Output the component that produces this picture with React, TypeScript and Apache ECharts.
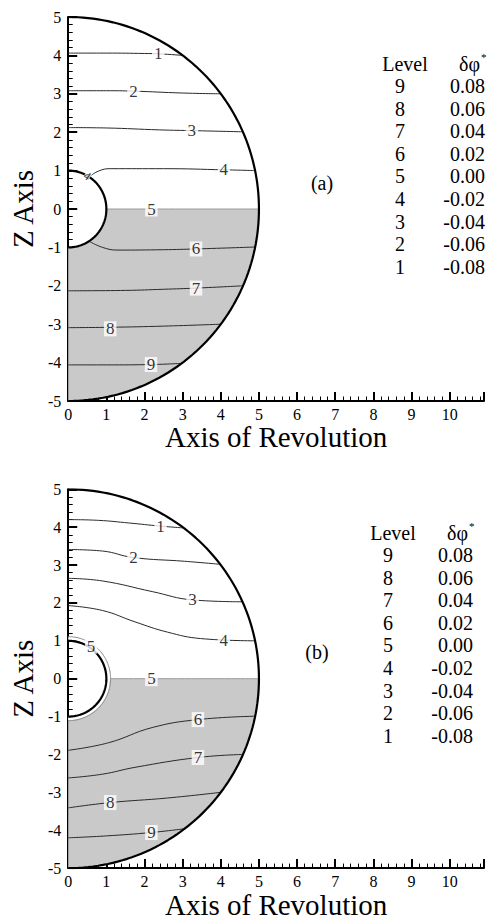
import React, { useEffect, useRef } from 'react';
import * as echarts from 'echarts';

const FONT = "'Liberation Serif', 'Times New Roman', Times, 'DejaVu Serif', serif";

// axes
const X_MIN = 0;
const X_MAX = 10.9;
const Y_MIN = -5;
const Y_MAX = 5;
const R_INNER = 1;
const R_OUTER = 5;

// legend table
const levelNames = ['9', '8', '7', '6', '5', '4', '3', '2', '1'];
const levelValues = ['0.08', '0.06', '0.04', '0.02', '0.00', '-0.02', '-0.04', '-0.06', '-0.08'];
const panelTags = ['(a)', '(b)'];

// contour lines, panel (a): levels 1..9 (level 5 lies on z = 0)
const contoursA: number[][][] = [
  [[0, 4.06], [1, 4.06], [2, 4.05], [2.4, 4.04], [3.0, 4.0]],
  [[0, 3.08], [1, 3.08], [1.7, 3.07], [3.0, 3.02], [4.0, 3.0]],
  [[0, 2.12], [1, 2.11], [2.4, 2.06], [3.3, 2.04], [4.58, 2.01]],
  [[0.55, 0.84], [0.8, 0.99], [1.1, 1.05], [2.5, 1.05], [4.1, 1.02], [4.9, 1.0]],
  [[1.0, 0], [5.0, 0]],
  [[0.55, -0.84], [0.9, -1.0], [1.3, -1.07], [2.5, -1.06], [3.35, -1.04], [4.9, -0.99]],
  [[0, -2.13], [1.5, -2.12], [2.5, -2.09], [3.35, -2.06], [4.58, -2.0]],
  [[0, -3.09], [1.1, -3.08], [2.5, -3.05], [4.0, -3.0]],
  [[0, -4.06], [1, -4.06], [2.2, -4.05], [2.97, -4.02]],
];
const labelsA: [number, number, string][] = [
  [2.36, 4.05, '1'], [1.71, 3.07, '2'], [3.24, 2.04, '3'], [4.08, 1.02, '4'],
  [2.18, 0, '5'], [3.35, -1.04, '6'], [3.35, -2.06, '7'], [1.1, -3.12, '8'], [2.17, -4.05, '9'],
];

// contour lines, panel (b)
const contoursB: number[][][] = [
  [[0, 4.2], [0.8, 4.18], [1.6, 4.11], [2.4, 4.03], [3.03, 3.98]],
  [[0, 3.41], [0.9, 3.37], [1.7, 3.2], [3.05, 3.1], [3.99, 3.02]],
  [[0, 2.65], [0.9, 2.58], [2.2, 2.3], [3.26, 2.08], [4.57, 2.03]],
  [[0, 1.93], [0.9, 1.8], [1.75, 1.5], [2.6, 1.23], [3.47, 1.06], [4.9, 1.0]],
  [[1.1, 0], [5.0, 0]],
  [[0, -1.89], [1.06, -1.69], [2.2, -1.29], [3.4, -1.08], [4.9, -0.99]],
  [[0, -2.62], [0.9, -2.52], [1.75, -2.34], [3.4, -2.08], [4.57, -2.0]],
  [[0, -3.41], [1.1, -3.27], [2.6, -3.15], [4.0, -3.0]],
  [[0, -4.2], [1, -4.15], [2.18, -4.06], [3.06, -3.96]],
];
const labelsB: [number, number, string][] = [
  [2.42, 4.03, '1'], [1.71, 3.2, '2'], [3.26, 2.08, '3'], [4.08, 1.02, '4'],
  [2.18, 0, '5'], [3.4, -1.08, '6'], [3.4, -2.08, '7'], [1.1, -3.27, '8'], [2.18, -4.06, '9'],
];

function arc(r: number, a0: number, a1: number, n = 120): number[][] {
  const pts: number[][] = [];
  for (let i = 0; i <= n; i++) {
    const a = ((a0 + ((a1 - a0) * i) / n) * Math.PI) / 180;
    pts.push([r * Math.cos(a), r * Math.sin(a)]);
  }
  return pts;
}

const grayRegion: number[][] = [
  [R_INNER, 0],
  ...arc(R_OUTER, 0, -90),
  [0, -R_INNER],
  ...arc(R_INNER, -90, 0),
];

const GRIDS = [
  { left: 66, top: 17, width: 420.7, height: 384 },
  { left: 66, top: 489.3, width: 420.4, height: 382.4 },
];

function buildPanelSeries(idx: number, contours: number[][][], labels: [number, number, string][], doubleInner: boolean) {
  const ax = { xAxisIndex: idx, yAxisIndex: idx };
  const series: any[] = [];
  series.push({
    type: 'custom',
    ...ax,
    z: 1,
    silent: true,
    data: [[0, 0]],
    renderItem: (_p: any, api: any) => ({
      type: 'polygon',
      shape: { points: grayRegion.map((p) => api.coord(p)) },
      style: { fill: '#c9c9c9', stroke: 'none' },
    }),
  });
  contours.forEach((pts, i) => {
    series.push({
      type: 'line',
      ...ax,
      z: 2,
      data: pts,
      smooth: 0.45,
      symbol: 'none',
      lineStyle: { color: i === 4 ? '#9a9a9a' : '#2a2a2a', width: 1 },
    });
  });
  if (doubleInner) {
    series.push({
      type: 'line', ...ax, z: 3, data: arc(1.06, -90, 90), symbol: 'none',
      lineStyle: { color: '#ffffff', width: 2.5 },
    });
    series.push({
      type: 'line', ...ax, z: 3, data: arc(1.11, -90, 90), symbol: 'none',
      lineStyle: { color: '#8a8a8a', width: 1 },
    });
  }
  series.push({
    type: 'line', ...ax, z: 4, data: arc(R_OUTER, 90, -90), symbol: 'none',
    lineStyle: { color: '#000', width: 2.2 },
  });
  series.push({
    type: 'line', ...ax, z: 4, data: arc(R_INNER, 90, -90), symbol: 'none',
    lineStyle: { color: '#000', width: 2.2 },
  });
  const extra: any[] = [];
  if (idx === 0) {
    extra.push({ name: '4', value: [0.5, 0.86], label: { fontSize: 12, rotate: -35, padding: 0 } });
  } else {
    extra.push({ name: '5', value: [0.6, 0.86], label: { fontSize: 17 } });
  }
  series.push({
    type: 'scatter',
    ...ax,
    z: 6,
    symbol: 'circle',
    symbolSize: 1,
    itemStyle: { color: 'rgba(0,0,0,0)' },
    data: [...labels.map(([x, y, n]) => ({ name: n, value: [x, y] })), ...extra],
    label: {
      show: true,
      position: 'inside',
      formatter: '{b}',
      color: '#000',
      fontSize: 17,
      fontFamily: FONT,
      backgroundColor: '#fff',
      padding: [0, 2, 0, 2],
      lineHeight: 15,
    },
  });
  return series;
}

function buildLegend(idx: number, cx: number, rightX: number, headerY: number, rowY0: number, tagX: number, tagY: number) {
  const els: any[] = [];
  const font = `20px ${FONT}`;
  const base = { font, fill: '#000', textVerticalAlign: 'middle' };
  els.push({ type: 'text', x: cx + 5, y: headerY, style: { ...base, text: 'Level', textAlign: 'center' } });
  els.push({ type: 'text', x: rightX - 5, y: headerY, style: { ...base, text: 'δφ', textAlign: 'right' } });
  els.push({ type: 'text', x: rightX - 4, y: headerY - 7, style: { ...base, font: `11px ${FONT}`, text: '*', textAlign: 'left' } });
  levelNames.forEach((n, i) => {
    const y = rowY0 + i * 22.6;
    els.push({ type: 'text', x: cx, y, style: { ...base, text: n, textAlign: 'center' } });
    els.push({ type: 'text', x: rightX, y, style: { ...base, text: levelValues[i], textAlign: 'right' } });
  });
  els.push({ type: 'text', x: tagX, y: tagY, style: { ...base, text: panelTags[idx], textAlign: 'center' } });
  return els;
}

function xAxisCfg(idx: number) {
  return {
    type: 'value',
    gridIndex: idx,
    min: X_MIN,
    max: X_MAX,
    interval: 1,
    name: 'Axis of Revolution',
    nameLocation: 'middle',
    nameGap: 20,
    nameTextStyle: { fontSize: 29, fontFamily: FONT, color: '#000' },
    axisLine: { show: true, onZero: false, lineStyle: { color: '#000', width: 2 } },
    axisTick: { show: true, inside: true, length: 9, lineStyle: { color: '#000', width: 2 } },
    minorTick: { show: true, splitNumber: 5, length: 4.5, lineStyle: { color: '#000', width: 1 } },
    splitLine: { show: false },
    axisLabel: {
      color: '#000', fontSize: 16, fontFamily: FONT, margin: 5,
      formatter: (v: number) => (Math.abs(v - Math.round(v)) < 1e-6 ? String(Math.round(v)) : ''),
    },
  };
}

function yAxisCfg(idx: number) {
  return {
    type: 'value',
    gridIndex: idx,
    min: Y_MIN,
    max: Y_MAX,
    interval: 1,
    name: 'Z Axis',
    nameLocation: 'middle',
    nameGap: 28,
    nameRotate: 90,
    nameTextStyle: { fontSize: 29, fontFamily: FONT, color: '#000' },
    axisLine: { show: true, onZero: false, lineStyle: { color: '#000', width: 2 } },
    axisTick: { show: true, inside: true, length: 9, lineStyle: { color: '#000', width: 2 } },
    minorTick: { show: true, splitNumber: 5, length: 4.5, lineStyle: { color: '#000', width: 1 } },
    splitLine: { show: false },
    axisLabel: { color: '#000', fontSize: 16, fontFamily: FONT, margin: 7 },
  };
}

export default function App() {
  const ref = useRef<HTMLDivElement>(null);
  useEffect(() => {
    if (!ref.current) return;
    const chart = echarts.init(ref.current, undefined, { renderer: 'svg' });
    chart.setOption({
      animation: false,
      backgroundColor: '#fff',
      textStyle: { fontFamily: FONT },
      grid: GRIDS.map((g) => ({ ...g, containLabel: false })),
      xAxis: [xAxisCfg(0), xAxisCfg(1)],
      yAxis: [yAxisCfg(0), yAxisCfg(1)],
      series: [
        ...buildPanelSeries(0, contoursA, labelsA, false),
        ...buildPanelSeries(1, contoursB, labelsB, true),
      ],
      graphic: [
        ...buildLegend(0, 400, 485, 64, 86, 322, 183),
        ...buildLegend(1, 388, 473, 533, 555, 317, 652),
      ],
    });
    return () => chart.dispose();
  }, []);
  return (
    <div
      ref={ref}
      style={{ position: 'fixed', left: 0, top: 0, width: 487, height: 920, background: '#fff' }}
    />
  );
}
